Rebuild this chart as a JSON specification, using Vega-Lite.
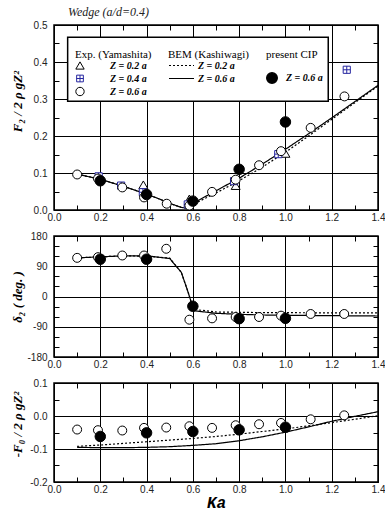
{
"$schema": "https://vega.github.io/schema/vega-lite/v6.json",
"background": "white",
"padding": {"left": 10, "top": 5, "right": 5, "bottom": 2},
"spacing": 26,
"bounds": "flush",
"resolve": {"scale": {"shape": "independent", "stroke": "independent", "fill": "independent", "strokeDash": "independent"}, "legend": {"shape": "independent", "stroke": "independent", "fill": "independent", "strokeDash": "independent"}},
"datasets": {
"exp": [
{"panel":"top","series":"Z = 0.2 a","Ka":0.386,"v":0.068},
{"panel":"top","series":"Z = 0.2 a","Ka":0.585,"v":0.03},
{"panel":"top","series":"Z = 0.2 a","Ka":0.785,"v":0.066},
{"panel":"top","series":"Z = 0.2 a","Ka":1.0,"v":0.153},
{"panel":"top","series":"Z = 0.4 a","Ka":0.193,"v":0.091},
{"panel":"top","series":"Z = 0.4 a","Ka":0.29,"v":0.066},
{"panel":"top","series":"Z = 0.4 a","Ka":0.384,"v":0.048},
{"panel":"top","series":"Z = 0.4 a","Ka":0.578,"v":0.015},
{"panel":"top","series":"Z = 0.4 a","Ka":0.778,"v":0.078},
{"panel":"top","series":"Z = 0.4 a","Ka":0.969,"v":0.151},
{"panel":"top","series":"Z = 0.4 a","Ka":1.265,"v":0.379},
{"panel":"top","series":"Z = 0.6 a","Ka":0.1,"v":0.096},
{"panel":"top","series":"Z = 0.6 a","Ka":0.19,"v":0.085},
{"panel":"top","series":"Z = 0.6 a","Ka":0.295,"v":0.061},
{"panel":"top","series":"Z = 0.6 a","Ka":0.389,"v":0.034},
{"panel":"top","series":"Z = 0.6 a","Ka":0.487,"v":0.017},
{"panel":"top","series":"Z = 0.6 a","Ka":0.585,"v":0.012},
{"panel":"top","series":"Z = 0.6 a","Ka":0.683,"v":0.049},
{"panel":"top","series":"Z = 0.6 a","Ka":0.785,"v":0.082},
{"panel":"top","series":"Z = 0.6 a","Ka":0.886,"v":0.121},
{"panel":"top","series":"Z = 0.6 a","Ka":0.981,"v":0.159},
{"panel":"top","series":"Z = 0.6 a","Ka":1.109,"v":0.222},
{"panel":"top","series":"Z = 0.6 a","Ka":1.255,"v":0.307},
{"panel":"mid","series":"Z = 0.6 a","Ka":0.1,"v":115},
{"panel":"mid","series":"Z = 0.6 a","Ka":0.19,"v":117},
{"panel":"mid","series":"Z = 0.6 a","Ka":0.295,"v":122},
{"panel":"mid","series":"Z = 0.6 a","Ka":0.389,"v":122},
{"panel":"mid","series":"Z = 0.6 a","Ka":0.485,"v":142},
{"panel":"mid","series":"Z = 0.6 a","Ka":0.585,"v":-69},
{"panel":"mid","series":"Z = 0.6 a","Ka":0.683,"v":-65},
{"panel":"mid","series":"Z = 0.6 a","Ka":0.785,"v":-61},
{"panel":"mid","series":"Z = 0.6 a","Ka":0.886,"v":-61},
{"panel":"mid","series":"Z = 0.6 a","Ka":0.981,"v":-57},
{"panel":"mid","series":"Z = 0.6 a","Ka":1.109,"v":-52},
{"panel":"mid","series":"Z = 0.6 a","Ka":1.254,"v":-52},
{"panel":"bot","series":"Z = 0.6 a","Ka":0.1,"v":-0.041},
{"panel":"bot","series":"Z = 0.6 a","Ka":0.19,"v":-0.043},
{"panel":"bot","series":"Z = 0.6 a","Ka":0.295,"v":-0.044},
{"panel":"bot","series":"Z = 0.6 a","Ka":0.389,"v":-0.036},
{"panel":"bot","series":"Z = 0.6 a","Ka":0.485,"v":-0.035},
{"panel":"bot","series":"Z = 0.6 a","Ka":0.585,"v":-0.031},
{"panel":"bot","series":"Z = 0.6 a","Ka":0.683,"v":-0.036},
{"panel":"bot","series":"Z = 0.6 a","Ka":0.785,"v":-0.028},
{"panel":"bot","series":"Z = 0.6 a","Ka":0.886,"v":-0.025},
{"panel":"bot","series":"Z = 0.6 a","Ka":0.981,"v":-0.021},
{"panel":"bot","series":"Z = 0.6 a","Ka":1.109,"v":-0.01},
{"panel":"bot","series":"Z = 0.6 a","Ka":1.254,"v":0.002}
],
"cip": [
{"panel":"top","series":"Z = 0.6 a","Ka":0.2,"v":0.079},
{"panel":"top","series":"Z = 0.6 a","Ka":0.4,"v":0.042},
{"panel":"top","series":"Z = 0.6 a","Ka":0.6,"v":0.024},
{"panel":"top","series":"Z = 0.6 a","Ka":0.8,"v":0.11},
{"panel":"top","series":"Z = 0.6 a","Ka":1.0,"v":0.238},
{"panel":"mid","series":"Z = 0.6 a","Ka":0.2,"v":111},
{"panel":"mid","series":"Z = 0.6 a","Ka":0.4,"v":111},
{"panel":"mid","series":"Z = 0.6 a","Ka":0.6,"v":-29},
{"panel":"mid","series":"Z = 0.6 a","Ka":0.8,"v":-66},
{"panel":"mid","series":"Z = 0.6 a","Ka":1.0,"v":-65},
{"panel":"bot","series":"Z = 0.6 a","Ka":0.2,"v":-0.062},
{"panel":"bot","series":"Z = 0.6 a","Ka":0.4,"v":-0.051},
{"panel":"bot","series":"Z = 0.6 a","Ka":0.6,"v":-0.047},
{"panel":"bot","series":"Z = 0.6 a","Ka":0.8,"v":-0.042},
{"panel":"bot","series":"Z = 0.6 a","Ka":1.0,"v":-0.034}
],
"bem": [
{"panel":"top","series":"Z = 0.2 a","Ka":0.1,"v":0.097},
{"panel":"top","series":"Z = 0.2 a","Ka":0.2,"v":0.083},
{"panel":"top","series":"Z = 0.2 a","Ka":0.3,"v":0.064},
{"panel":"top","series":"Z = 0.2 a","Ka":0.4,"v":0.043},
{"panel":"top","series":"Z = 0.2 a","Ka":0.45,"v":0.031},
{"panel":"top","series":"Z = 0.2 a","Ka":0.5,"v":0.018},
{"panel":"top","series":"Z = 0.2 a","Ka":0.55,"v":0.007},
{"panel":"top","series":"Z = 0.2 a","Ka":0.575,"v":0.005},
{"panel":"top","series":"Z = 0.2 a","Ka":0.6,"v":0.015},
{"panel":"top","series":"Z = 0.2 a","Ka":0.7,"v":0.046},
{"panel":"top","series":"Z = 0.2 a","Ka":0.8,"v":0.079},
{"panel":"top","series":"Z = 0.2 a","Ka":0.9,"v":0.116},
{"panel":"top","series":"Z = 0.2 a","Ka":1.0,"v":0.156},
{"panel":"top","series":"Z = 0.2 a","Ka":1.1,"v":0.2},
{"panel":"top","series":"Z = 0.2 a","Ka":1.2,"v":0.245},
{"panel":"top","series":"Z = 0.2 a","Ka":1.3,"v":0.29},
{"panel":"top","series":"Z = 0.2 a","Ka":1.4,"v":0.335},
{"panel":"top","series":"Z = 0.6 a","Ka":0.1,"v":0.097},
{"panel":"top","series":"Z = 0.6 a","Ka":0.2,"v":0.083},
{"panel":"top","series":"Z = 0.6 a","Ka":0.3,"v":0.064},
{"panel":"top","series":"Z = 0.6 a","Ka":0.4,"v":0.043},
{"panel":"top","series":"Z = 0.6 a","Ka":0.45,"v":0.031},
{"panel":"top","series":"Z = 0.6 a","Ka":0.5,"v":0.018},
{"panel":"top","series":"Z = 0.6 a","Ka":0.55,"v":0.007},
{"panel":"top","series":"Z = 0.6 a","Ka":0.575,"v":0.005},
{"panel":"top","series":"Z = 0.6 a","Ka":0.6,"v":0.018},
{"panel":"top","series":"Z = 0.6 a","Ka":0.7,"v":0.052},
{"panel":"top","series":"Z = 0.6 a","Ka":0.8,"v":0.086},
{"panel":"top","series":"Z = 0.6 a","Ka":0.9,"v":0.124},
{"panel":"top","series":"Z = 0.6 a","Ka":1.0,"v":0.164},
{"panel":"top","series":"Z = 0.6 a","Ka":1.1,"v":0.206},
{"panel":"top","series":"Z = 0.6 a","Ka":1.2,"v":0.249},
{"panel":"top","series":"Z = 0.6 a","Ka":1.3,"v":0.293},
{"panel":"top","series":"Z = 0.6 a","Ka":1.4,"v":0.337},
{"panel":"mid","series":"Z = 0.2 a","Ka":0.1,"v":115},
{"panel":"mid","series":"Z = 0.2 a","Ka":0.2,"v":118},
{"panel":"mid","series":"Z = 0.2 a","Ka":0.3,"v":121},
{"panel":"mid","series":"Z = 0.2 a","Ka":0.4,"v":120},
{"panel":"mid","series":"Z = 0.2 a","Ka":0.5,"v":114},
{"panel":"mid","series":"Z = 0.2 a","Ka":0.55,"v":72},
{"panel":"mid","series":"Z = 0.2 a","Ka":0.575,"v":22},
{"panel":"mid","series":"Z = 0.2 a","Ka":0.59,"v":-10},
{"panel":"mid","series":"Z = 0.2 a","Ka":0.6,"v":-38},
{"panel":"mid","series":"Z = 0.2 a","Ka":0.7,"v":-46},
{"panel":"mid","series":"Z = 0.2 a","Ka":0.8,"v":-47},
{"panel":"mid","series":"Z = 0.2 a","Ka":0.9,"v":-48},
{"panel":"mid","series":"Z = 0.2 a","Ka":1.0,"v":-48},
{"panel":"mid","series":"Z = 0.2 a","Ka":1.2,"v":-49},
{"panel":"mid","series":"Z = 0.2 a","Ka":1.4,"v":-49},
{"panel":"mid","series":"Z = 0.6 a","Ka":0.1,"v":115},
{"panel":"mid","series":"Z = 0.6 a","Ka":0.2,"v":118},
{"panel":"mid","series":"Z = 0.6 a","Ka":0.3,"v":121},
{"panel":"mid","series":"Z = 0.6 a","Ka":0.4,"v":121},
{"panel":"mid","series":"Z = 0.6 a","Ka":0.5,"v":113},
{"panel":"mid","series":"Z = 0.6 a","Ka":0.55,"v":72},
{"panel":"mid","series":"Z = 0.6 a","Ka":0.575,"v":22},
{"panel":"mid","series":"Z = 0.6 a","Ka":0.59,"v":-10},
{"panel":"mid","series":"Z = 0.6 a","Ka":0.6,"v":-42},
{"panel":"mid","series":"Z = 0.6 a","Ka":0.7,"v":-50},
{"panel":"mid","series":"Z = 0.6 a","Ka":0.8,"v":-53},
{"panel":"mid","series":"Z = 0.6 a","Ka":0.9,"v":-55},
{"panel":"mid","series":"Z = 0.6 a","Ka":1.0,"v":-56},
{"panel":"mid","series":"Z = 0.6 a","Ka":1.2,"v":-57},
{"panel":"mid","series":"Z = 0.6 a","Ka":1.4,"v":-58},
{"panel":"bot","series":"Z = 0.2 a","Ka":0.1,"v":-0.092},
{"panel":"bot","series":"Z = 0.2 a","Ka":0.2,"v":-0.088},
{"panel":"bot","series":"Z = 0.2 a","Ka":0.3,"v":-0.083},
{"panel":"bot","series":"Z = 0.2 a","Ka":0.4,"v":-0.078},
{"panel":"bot","series":"Z = 0.2 a","Ka":0.5,"v":-0.073},
{"panel":"bot","series":"Z = 0.2 a","Ka":0.6,"v":-0.068},
{"panel":"bot","series":"Z = 0.2 a","Ka":0.7,"v":-0.062},
{"panel":"bot","series":"Z = 0.2 a","Ka":0.8,"v":-0.055},
{"panel":"bot","series":"Z = 0.2 a","Ka":0.9,"v":-0.047},
{"panel":"bot","series":"Z = 0.2 a","Ka":1.0,"v":-0.039},
{"panel":"bot","series":"Z = 0.2 a","Ka":1.1,"v":-0.03},
{"panel":"bot","series":"Z = 0.2 a","Ka":1.2,"v":-0.02},
{"panel":"bot","series":"Z = 0.2 a","Ka":1.3,"v":-0.01},
{"panel":"bot","series":"Z = 0.2 a","Ka":1.4,"v":0.001},
{"panel":"bot","series":"Z = 0.6 a","Ka":0.1,"v":-0.095},
{"panel":"bot","series":"Z = 0.6 a","Ka":0.2,"v":-0.096},
{"panel":"bot","series":"Z = 0.6 a","Ka":0.3,"v":-0.096},
{"panel":"bot","series":"Z = 0.6 a","Ka":0.4,"v":-0.095},
{"panel":"bot","series":"Z = 0.6 a","Ka":0.5,"v":-0.093},
{"panel":"bot","series":"Z = 0.6 a","Ka":0.6,"v":-0.089},
{"panel":"bot","series":"Z = 0.6 a","Ka":0.7,"v":-0.084},
{"panel":"bot","series":"Z = 0.6 a","Ka":0.8,"v":-0.075},
{"panel":"bot","series":"Z = 0.6 a","Ka":0.9,"v":-0.063},
{"panel":"bot","series":"Z = 0.6 a","Ka":1.0,"v":-0.049},
{"panel":"bot","series":"Z = 0.6 a","Ka":1.1,"v":-0.033},
{"panel":"bot","series":"Z = 0.6 a","Ka":1.2,"v":-0.016},
{"panel":"bot","series":"Z = 0.6 a","Ka":1.3,"v":-0.001},
{"panel":"bot","series":"Z = 0.6 a","Ka":1.4,"v":0.013}
]
},
"vconcat": [
{
"width": 324, "height": 185,
"title": {"text": "Wedge (a/d=0.4)", "anchor": "start", "frame": "group", "dx": 14, "offset": 1, "font": "Liberation Serif", "fontStyle": "italic", "fontWeight": "normal", "fontSize": 12, "color": "#222"},
"layer": [
{"data": {"values": [{}]}, "mark": {"type": "rect", "fill": "white", "stroke": "black", "strokeWidth": 1.5},
 "encoding": {"x": {"datum": 0.059, "type": "quantitative", "scale": {"domain": [0, 1.4], "nice": false, "zero": false}, "axis": null}, "x2": {"datum": 1.185},
  "y": {"datum": 0.467, "type": "quantitative", "scale": {"domain": [0, 0.5], "nice": false, "zero": false}, "axis": null}, "y2": {"datum": 0.294}}},
{"data": {"name": "bem"}, "transform": [{"filter": "datum.panel == 'top'"}],
 "mark": {"type": "line", "color": "black", "strokeWidth": 1.2},
 "encoding": {
  "x": {"field": "Ka", "type": "quantitative", "scale": {"domain": [0, 1.4], "nice": false, "zero": false},
   "axis": {"orient": "bottom", "values": [0,0.1,0.2,0.3,0.4,0.5,0.6,0.7,0.8,0.9,1.0,1.1,1.2,1.3,1.4], "labelExpr": "round(datum.value*10)%2==0 ? format(datum.value,'.1f') : ''", "labelFlush": false, "labelOverlap": false, "labelPadding": 7, "grid": true, "gridColor": {"condition": {"test": "round(datum.value*10)%2==0", "value": "black"}, "value": "transparent"}, "gridWidth": 1, "tickSize": -5, "tickColor": "black", "domain": false, "title": null}},
  "y": {"field": "v", "type": "quantitative", "scale": {"domain": [0, 0.5], "nice": false, "zero": false},
   "axis": {"orient": "left", "values": [0,0.05,0.1,0.15,0.2,0.25,0.3,0.35,0.4,0.45,0.5], "labelExpr": "round(datum.value*20)%2==0 ? format(datum.value,'.1f') : ''", "labelFlush": false, "labelOverlap": false, "labelPadding": 12, "grid": true, "gridColor": {"condition": {"test": "round(datum.value*20)%2==0", "value": "black"}, "value": "transparent"}, "gridWidth": 1, "tickSize": -5, "tickColor": "black", "domain": false,
    "title": "F₂ / 2 ρ gZ²", "titleX": -37, "titleY": 76, "titleAngle": 270, "titleAlign": "center", "titleBaseline": "middle", "titleFont": "Liberation Serif", "titleFontStyle": "italic", "titleFontWeight": "bold", "titleFontSize": 13, "titleColor": "black"}},
  "strokeDash": {"field": "series", "type": "nominal", "scale": {"domain": ["Z = 0.2 a", "Z = 0.6 a"], "range": [[2, 2], [1, 0]]},
   "legend": {"title": "BEM (Kashiwagi)", "orient": "none", "legendX": 114, "legendY": 24, "padding": 0, "titleFont": "Liberation Serif", "titleFontSize": 11, "titleFontWeight": "normal", "titleColor": "black", "titlePadding": -1, "labelFont": "Liberation Serif", "labelFontSize": 10, "labelFontStyle": "italic", "labelFontWeight": "bold", "labelColor": "black", "labelOffset": 3, "symbolType": "stroke", "symbolSize": 625, "symbolStrokeColor": "black", "symbolStrokeWidth": 1.2, "clipHeight": 13, "rowPadding": 0}}
 }},
{"data": {"name": "exp"}, "transform": [{"filter": "datum.panel == 'top'"}],
 "mark": {"type": "point", "fill": "white", "fillOpacity": 1, "opacity": 1, "strokeWidth": 1, "size": 80},
 "encoding": {
  "x": {"field": "Ka", "type": "quantitative", "axis": {"orient": "top", "values": [0,0.1,0.2,0.3,0.4,0.5,0.6,0.7,0.8,0.9,1.0,1.1,1.2,1.3,1.4], "labels": false, "grid": false, "tickSize": -5, "tickColor": "black", "domain": false, "title": null}},
  "y": {"field": "v", "type": "quantitative", "axis": {"orient": "right", "values": [0,0.05,0.1,0.15,0.2,0.25,0.3,0.35,0.4,0.45,0.5], "labels": false, "grid": false, "tickSize": -5, "tickColor": "black", "domain": false, "title": null}},
  "shape": {"field": "series", "type": "nominal", "scale": {"domain": ["Z = 0.2 a", "Z = 0.4 a", "Z = 0.6 a"], "range": ["triangle-up", "M-0.8,-0.8H0.8V0.8H-0.8Z M0,-0.8V0.8 M-0.8,0H0.8", "circle"]},
   "legend": {"title": "Exp. (Yamashita)", "orient": "none", "legendX": 21, "legendY": 24, "padding": 0, "titleFont": "Liberation Serif", "titleFontSize": 11, "titleFontWeight": "normal", "titleColor": "black", "titlePadding": -1, "labelFont": "Liberation Serif", "labelFontSize": 10, "labelFontStyle": "italic", "labelFontWeight": "bold", "labelColor": "black", "labelOffset": 25, "symbolFillColor": "white", "symbolStrokeWidth": 1, "symbolSize": 70, "clipHeight": 13, "rowPadding": 0}},
  "stroke": {"field": "series", "type": "nominal", "scale": {"domain": ["Z = 0.2 a", "Z = 0.4 a", "Z = 0.6 a"], "range": ["black", "#2626a0", "black"]},
   "legend": {"title": "Exp. (Yamashita)", "orient": "none", "legendX": 21, "legendY": 24, "padding": 0, "titleFont": "Liberation Serif", "titleFontSize": 11, "titleFontWeight": "normal", "titleColor": "black", "titlePadding": -1, "labelFont": "Liberation Serif", "labelFontSize": 10, "labelFontStyle": "italic", "labelFontWeight": "bold", "labelColor": "black", "labelOffset": 25, "symbolFillColor": "white", "symbolStrokeWidth": 1, "symbolSize": 70, "clipHeight": 13, "rowPadding": 0}}
 }},
{"data": {"name": "cip"}, "transform": [{"filter": "datum.panel == 'top'"}],
 "mark": {"type": "point", "shape": "circle", "stroke": "black", "strokeWidth": 1, "size": 110, "fillOpacity": 1, "opacity": 1},
 "encoding": {
  "x": {"field": "Ka", "type": "quantitative", "axis": null},
  "y": {"field": "v", "type": "quantitative", "axis": null},
  "fill": {"field": "series", "type": "nominal", "scale": {"domain": ["Z = 0.6 a"], "range": ["black"]},
   "legend": {"title": "present CIP", "orient": "none", "legendX": 212, "legendY": 24, "padding": 0, "titleFont": "Liberation Serif", "titleFontSize": 11, "titleFontWeight": "normal", "titleColor": "black", "titlePadding": 12, "labelFont": "Liberation Serif", "labelFontSize": 10, "labelFontStyle": "italic", "labelFontWeight": "bold", "labelColor": "black", "labelOffset": 8, "symbolType": "circle", "symbolSize": 110, "symbolStrokeColor": "black"}}
 }}
]
},
{
"width": 324, "height": 121,
"layer": [
{"data": {"name": "bem"}, "transform": [{"filter": "datum.panel == 'mid'"}],
 "mark": {"type": "line", "color": "black", "strokeWidth": 1.2},
 "encoding": {
  "x": {"field": "Ka", "type": "quantitative", "scale": {"domain": [0, 1.4], "nice": false, "zero": false},
   "axis": {"orient": "bottom", "values": [0,0.1,0.2,0.3,0.4,0.5,0.6,0.7,0.8,0.9,1.0,1.1,1.2,1.3,1.4], "labelExpr": "round(datum.value*10)%2==0 ? format(datum.value,'.1f') : ''", "labelFlush": false, "labelOverlap": false, "labelPadding": 7, "grid": true, "gridColor": {"condition": {"test": "round(datum.value*10)%2==0", "value": "black"}, "value": "transparent"}, "gridWidth": 1, "tickSize": -5, "tickColor": "black", "domain": false, "title": null}},
  "y": {"field": "v", "type": "quantitative", "scale": {"domain": [-180, 180], "nice": false, "zero": false},
   "axis": {"orient": "left", "values": [-180,-150,-120,-90,-60,-30,0,30,60,90,120,150,180], "labelExpr": "datum.value%90==0 ? replace(format(datum.value,'d'),'−','-') : ''", "labelFlush": false, "labelOverlap": false, "labelPadding": 12, "grid": true, "gridColor": {"condition": {"test": "datum.value%90==0", "value": "black"}, "value": "transparent"}, "gridWidth": 1, "tickSize": -5, "tickColor": "black", "domain": false,
    "title": "δ₂ ( deg. )", "titleX": -37, "titleY": 60.5, "titleAngle": 270, "titleAlign": "center", "titleBaseline": "middle", "titleFont": "Liberation Serif", "titleFontStyle": "italic", "titleFontWeight": "bold", "titleFontSize": 13, "titleColor": "black"}},
  "strokeDash": {"field": "series", "type": "nominal", "scale": {"domain": ["Z = 0.2 a", "Z = 0.6 a"], "range": [[2, 2], [1, 0]]}, "legend": null}
 }},
{"data": {"name": "exp"}, "transform": [{"filter": "datum.panel == 'mid'"}],
 "mark": {"type": "point", "shape": "circle", "fill": "white", "stroke": "black", "fillOpacity": 1, "opacity": 1, "strokeWidth": 1, "size": 80},
 "encoding": {
  "x": {"field": "Ka", "type": "quantitative", "axis": {"orient": "top", "values": [0,0.1,0.2,0.3,0.4,0.5,0.6,0.7,0.8,0.9,1.0,1.1,1.2,1.3,1.4], "labels": false, "grid": false, "tickSize": -5, "tickColor": "black", "domain": false, "title": null}},
  "y": {"field": "v", "type": "quantitative", "axis": {"orient": "right", "values": [-180,-150,-120,-90,-60,-30,0,30,60,90,120,150,180], "labels": false, "grid": false, "tickSize": -5, "tickColor": "black", "domain": false, "title": null}}
 }},
{"data": {"name": "cip"}, "transform": [{"filter": "datum.panel == 'mid'"}],
 "mark": {"type": "point", "shape": "circle", "fill": "black", "stroke": "black", "strokeWidth": 1, "size": 110, "fillOpacity": 1, "opacity": 1},
 "encoding": {
  "x": {"field": "Ka", "type": "quantitative", "axis": null},
  "y": {"field": "v", "type": "quantitative", "axis": null}
 }}
]
},
{
"width": 324, "height": 99,
"layer": [
{"data": {"name": "bem"}, "transform": [{"filter": "datum.panel == 'bot'"}],
 "mark": {"type": "line", "color": "black", "strokeWidth": 1.2},
 "encoding": {
  "x": {"field": "Ka", "type": "quantitative", "scale": {"domain": [0, 1.4], "nice": false, "zero": false},
   "axis": {"orient": "bottom", "values": [0,0.1,0.2,0.3,0.4,0.5,0.6,0.7,0.8,0.9,1.0,1.1,1.2,1.3,1.4], "labelExpr": "round(datum.value*10)%2==0 ? format(datum.value,'.1f') : ''", "labelFlush": false, "labelOverlap": false, "labelPadding": 7, "grid": true, "gridColor": {"condition": {"test": "round(datum.value*10)%2==0", "value": "black"}, "value": "transparent"}, "gridWidth": 1, "tickSize": -5, "tickColor": "black", "domain": false,
    "title": "Ka", "titleFont": "Liberation Mono", "titleFontSize": 16, "titleFontWeight": "bold", "titleFontStyle": "italic", "titlePadding": 0, "titleColor": "black"}},
  "y": {"field": "v", "type": "quantitative", "scale": {"domain": [-0.2, 0.1], "nice": false, "zero": false},
   "axis": {"orient": "left", "values": [-0.2,-0.15,-0.1,-0.05,0,0.05,0.1], "labelExpr": "round(datum.value*20)%2==0 ? replace(format(datum.value,'.1f'),'−','-') : ''", "labelFlush": false, "labelOverlap": false, "labelPadding": 12, "grid": true, "gridColor": {"condition": {"test": "round(datum.value*20)%2==0", "value": "black"}, "value": "transparent"}, "gridWidth": 1, "tickSize": -5, "tickColor": "black", "domain": false,
    "title": "-F₀ / 2 ρ gZ²", "titleX": -37, "titleY": 41, "titleAngle": 270, "titleAlign": "center", "titleBaseline": "middle", "titleFont": "Liberation Serif", "titleFontStyle": "italic", "titleFontWeight": "bold", "titleFontSize": 13, "titleColor": "black"}},
  "strokeDash": {"field": "series", "type": "nominal", "scale": {"domain": ["Z = 0.2 a", "Z = 0.6 a"], "range": [[2, 2], [1, 0]]}, "legend": null}
 }},
{"data": {"name": "exp"}, "transform": [{"filter": "datum.panel == 'bot'"}],
 "mark": {"type": "point", "shape": "circle", "fill": "white", "stroke": "black", "fillOpacity": 1, "opacity": 1, "strokeWidth": 1, "size": 80},
 "encoding": {
  "x": {"field": "Ka", "type": "quantitative", "axis": {"orient": "top", "values": [0,0.1,0.2,0.3,0.4,0.5,0.6,0.7,0.8,0.9,1.0,1.1,1.2,1.3,1.4], "labels": false, "grid": false, "tickSize": -5, "tickColor": "black", "domain": false, "title": null}},
  "y": {"field": "v", "type": "quantitative", "axis": {"orient": "right", "values": [-0.2,-0.15,-0.1,-0.05,0,0.05,0.1], "labels": false, "grid": false, "tickSize": -5, "tickColor": "black", "domain": false, "title": null}}
 }},
{"data": {"name": "cip"}, "transform": [{"filter": "datum.panel == 'bot'"}],
 "mark": {"type": "point", "shape": "circle", "fill": "black", "stroke": "black", "strokeWidth": 1, "size": 110, "fillOpacity": 1, "opacity": 1},
 "encoding": {
  "x": {"field": "Ka", "type": "quantitative", "axis": null},
  "y": {"field": "v", "type": "quantitative", "axis": null}
 }}
]
}
],
"config": {
 "font": "Liberation Sans",
 "view": {"stroke": "black", "strokeWidth": 1.5},
 "axis": {"labelFont": "Liberation Sans", "labelFontSize": 10, "labelColor": "#222"}
}
}
